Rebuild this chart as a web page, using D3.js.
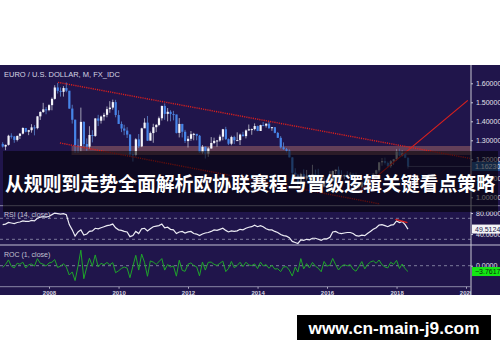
<!DOCTYPE html>
<html>
<head>
<meta charset="utf-8">
<script src="https://cdn.jsdelivr.net/npm/d3@7"></script>
<style>
body { margin: 0; background: #fff; }
svg { display: block; }
</style>
</head>
<body>
<svg id="chart" width="500" height="362"></svg>
<script>

// monthly EUR/USD bars, Sep 2006 .. May 2018
const firstMonth = "2006-09";
const firstOpen = 1.281;
const closes = [1.267,1.276,1.324,1.320,
  1.302,1.323,1.335,1.365,1.345,1.353,1.368,1.364,1.426,1.449,1.463,1.459,
  1.485,1.518,1.578,1.560,1.555,1.575,1.561,1.467,1.408,1.273,1.270,1.397,
  1.280,1.267,1.328,1.323,1.415,1.403,1.425,1.434,1.464,1.472,1.501,1.433,
  1.386,1.362,1.351,1.330,1.227,1.223,1.305,1.268,1.363,1.393,1.298,1.338,
  1.369,1.381,1.416,1.481,1.439,1.450,1.438,1.436,1.339,1.386,1.345,1.296,
  1.308,1.332,1.334,1.324,1.237,1.266,1.230,1.257,1.286,1.297,1.299,1.319,
  1.358,1.306,1.282,1.317,1.300,1.301,1.330,1.322,1.352,1.358,1.359,1.375,
  1.349,1.380,1.377,1.387,1.364,1.369,1.339,1.313,1.263,1.253,1.245,1.210,
  1.129,1.119,1.073,1.122,1.099,1.114,1.098,1.121,1.118,1.100,1.057,1.086,
  1.083,1.087,1.138,1.145,1.113,1.110,1.117,1.116,1.124,1.098,1.059,1.052,
  1.080,1.058,1.065,1.090,1.124,1.142,1.184,1.191,1.181,1.164,1.190,1.200,
  1.241,1.219,1.232,1.208,1.1623];
const highs = [1.290,1.277,1.329,1.337,
  1.323,1.325,1.338,1.368,1.364,1.355,1.385,1.380,1.428,1.453,1.497,1.475,
  1.490,1.525,1.590,1.602,1.578,1.585,1.604,1.560,1.487,1.410,1.308,1.472,
  1.400,1.310,1.374,1.353,1.417,1.434,1.430,1.445,1.478,1.506,1.514,1.513,
  1.458,1.399,1.382,1.369,1.333,1.243,1.311,1.333,1.366,1.416,1.428,1.346,
  1.387,1.386,1.425,1.482,1.494,1.470,1.458,1.455,1.434,1.417,1.387,1.355,
  1.323,1.349,1.339,1.333,1.328,1.275,1.268,1.264,1.317,1.314,1.301,1.330,
  1.360,1.371,1.310,1.324,1.324,1.342,1.335,1.345,1.357,1.383,1.362,1.389,
  1.377,1.382,1.396,1.390,1.399,1.370,1.370,1.344,1.322,1.289,1.260,1.252,
  1.211,1.153,1.123,1.129,1.147,1.144,1.122,1.171,1.146,1.150,1.103,1.106,
  1.100,1.138,1.141,1.146,1.162,1.142,1.119,1.137,1.133,1.127,1.130,1.071,
  1.083,1.083,1.091,1.096,1.127,1.145,1.185,1.207,1.209,1.188,1.196,1.202,
  1.254,1.256,1.248,1.241,1.210];
const lows = [1.262,1.248,1.272,1.309,
  1.287,1.294,1.307,1.331,1.342,1.327,1.340,1.326,1.358,1.407,1.444,1.437,
  1.453,1.458,1.514,1.546,1.530,1.530,1.553,1.465,1.388,1.233,1.233,1.242,
  1.266,1.245,1.256,1.289,1.318,1.375,1.388,1.404,1.421,1.445,1.461,1.421,
  1.386,1.343,1.327,1.312,1.214,1.188,1.215,1.259,1.264,1.368,1.297,1.307,
  1.287,1.343,1.374,1.404,1.408,1.400,1.400,1.405,1.336,1.315,1.315,1.286,
  1.262,1.297,1.300,1.300,1.234,1.229,1.204,1.213,1.256,1.280,1.266,1.292,
  1.300,1.302,1.275,1.274,1.280,1.300,1.275,1.320,1.310,1.350,1.329,1.352,
  1.348,1.349,1.375,1.367,1.360,1.350,1.337,1.313,1.257,1.250,1.236,1.210,
  1.110,1.110,1.046,1.052,1.082,1.088,1.081,1.085,1.109,1.090,1.057,1.052,
  1.071,1.086,1.082,1.122,1.110,1.091,1.095,1.105,1.112,1.085,1.056,1.035,
  1.034,1.049,1.049,1.057,1.084,1.111,1.131,1.166,1.172,1.157,1.155,1.171,
  1.192,1.215,1.215,1.206,1.151];

// RSI (14, close)
const rsiValues = [58,59,62,61,60,62,63,65,64,64,66,65,70,72,73,72,
  74,77,80,79,78,79,77,58,48,36,44,48,
  38,40,45,46,51,50,52,54,56,57,59,52,
  48,47,45,44,35,37,45,41,50,51,46,50,
  54,55,56,59,52,53,49,48,41,44,45,42,
  44,45,41,40,37,40,42,43,45,48,47,49,
  51,47,44,46,45,46,49,48,51,53,54,57,
  54,56,54,50,48,48,45,43,39,37,36,33,
  26,24,22,29,28,30,29,32,32,30,28,31,
  31,34,44,45,42,41,42,43,43,41,37,36,
  38,37,41,45,49,52,57,58,56,54,57,58,
  65,62,64,58,49.5124];

// ROC (1, close), percent
const rocValues = [-1.09,0.71,3.76,-0.30,
  -1.36,1.61,0.91,2.25,-1.47,0.59,1.11,-0.29,4.55,1.61,0.97,-0.27,
  1.78,2.22,3.95,-1.14,-0.32,1.29,-0.89,-6.02,-4.02,-9.59,-0.24,10.0,
  -8.38,-1.02,4.81,-0.38,6.95,-0.85,1.57,0.63,2.09,0.55,1.97,-4.53,
  -3.28,-1.73,-0.81,-1.55,-7.74,-0.33,6.70,-2.84,7.49,2.20,-6.82,3.08,
  2.32,0.88,2.53,4.59,-2.84,0.76,-0.83,-0.14,-6.75,3.51,-2.96,-3.64,
  0.93,1.83,0.15,-0.75,-6.57,2.34,-2.84,2.20,2.31,0.86,0.15,1.54,
  2.96,-3.83,-1.84,2.73,-1.29,0.08,2.23,-0.60,2.27,0.44,0.07,1.18,
  -1.89,2.30,-0.22,0.73,-1.66,0.37,-2.19,-1.94,-3.81,-0.79,-0.64,-2.81,
  -6.69,-0.89,-4.11,4.57,-2.05,1.36,-1.44,2.09,-0.27,-1.61,-3.91,2.74,
  -0.28,0.37,4.69,0.62,-2.79,-0.27,0.63,-0.09,0.72,-2.31,-3.55,-0.66,
  2.66,-2.04,0.66,2.35,3.12,1.60,3.68,0.59,-0.84,-1.44,2.23,0.84,
  3.42,-1.77,1.07,-1.95,-3.7617];

const priceTicks = [1.0, 1.1, 1.2, 1.3, 1.4, 1.5, 1.6];
const rsiTicks = [80, 40];
const rsiLevels = [70, 30];
const rocTicks = [0];
const lastPrice = 1.1623;

// drawings: [date, price]
const channelTop = [["2008-04-05", 1.605], ["2020-02-10", 1.205]];
const channelLow = [["2008-04-25", 1.286], ["2017-07-10", 0.965]];
const trendUp = [["2016-12-10", 1.035], ["2020-01-20", 1.51]];
const zone = {from: "2008-08-25", lo: 1.2226, hi: 1.27};
const rsiDiv = [["2017-12-20", 68], ["2018-04-25", 61.6]];
const greyFrom = "2016-09";

const title = "从规则到走势全面解析欧协联赛程与晋级逻辑关键看点策略";
const chartName = "EURO / U.S. DOLLAR, M, FX_IDC";
const watermark = "www.cn-main-j9.com";

const parseDay = d3.timeParse("%Y-%m-%d");
const parseMonth = d3.timeParse("%Y-%m");

const bg = "#20154b";
const axisX = 471;

const svg = d3.select("#chart");

svg.append("rect").attr("width", 500).attr("height", 362).attr("fill", "#fff");
svg.append("rect")
  .attr("x", 0).attr("y", 65).attr("width", 500).attr("height", 230)
  .attr("fill", bg);

const xScale = d3.scaleTime()
  .domain([new Date(2008, 0, 1), new Date(2020, 0, 1)])
  .range([49, 466]);
const yPrice = d3.scaleLinear().domain([1.0, 1.6]).range([197.3, 83.3]);
const yRsi = d3.scaleLinear().domain([30, 70]).range([239.3, 218.3]);
const yRoc = d3.scaleLinear().domain([0, 10]).range([265.7, 250.2]);

const start = parseMonth(firstMonth);
const bars = closes.map((c, i) => ({
  date: d3.timeMonth.offset(start, i),
  open: i ? closes[i - 1] : firstOpen,
  close: c, high: highs[i], low: lows[i],
  rsi: rsiValues[i], roc: rocValues[i]
}));
const greyDate = parseMonth(greyFrom);

svg.append("clipPath").attr("id", "plot")
  .append("rect").attr("x", 0).attr("y", 65).attr("width", axisX).attr("height", 230);

const plot = svg.append("g").attr("clip-path", "url(#plot)");

// support / resistance zone
plot.append("rect")
  .attr("x", xScale(parseDay(zone.from)))
  .attr("y", yPrice(zone.hi))
  .attr("width", axisX - xScale(parseDay(zone.from)))
  .attr("height", yPrice(zone.lo) - yPrice(zone.hi))
  .attr("fill", "#c27a6e").attr("fill-opacity", 0.42);

// candles
const candle = plot.append("g").selectAll("g")
  .data(bars).enter().append("g");

function colors(d) {
  const up = d.close >= d.open;
  const grey = d.date >= greyDate;
  if (grey) return up ? ["#a4a4b0", "#8c8c9a"] : ["#3c6cb8", "#4d6a9c"];
  return up ? ["#f4f4fa", "#c4c4d2"] : ["#4684e8", "#5a88d2"];
}

candle.append("line")
  .attr("x1", d => xScale(d.date)).attr("x2", d => xScale(d.date))
  .attr("y1", d => yPrice(d.high)).attr("y2", d => yPrice(d.low))
  .attr("stroke", d => colors(d)[1]).attr("stroke-width", 0.8);

candle.append("rect")
  .attr("x", d => xScale(d.date) - 1)
  .attr("width", 2.2)
  .attr("y", d => yPrice(Math.max(d.open, d.close)))
  .attr("height", d => Math.max(1, Math.abs(yPrice(d.open) - yPrice(d.close))))
  .attr("fill", d => colors(d)[0]);

// channel (dotted) and trend line
function drawLine(pts, dash, width) {
  plot.append("line")
    .attr("x1", xScale(parseDay(pts[0][0]))).attr("y1", yPrice(pts[0][1]))
    .attr("x2", xScale(parseDay(pts[1][0]))).attr("y2", yPrice(pts[1][1]))
    .attr("stroke", "#d8201e").attr("stroke-width", width)
    .attr("stroke-dasharray", dash);
}
drawLine(channelTop, "1.2,1", 1.4);
drawLine(channelLow, "1.2,1", 1.4);
drawLine(trendUp, null, 1.2);

// last price line
plot.append("line")
  .attr("x1", xScale(bars[bars.length - 1].date)).attr("x2", axisX)
  .attr("y1", yPrice(lastPrice)).attr("y2", yPrice(lastPrice))
  .attr("stroke", "#9aa0c0").attr("stroke-width", 0.6).attr("stroke-opacity", 0.7);

// RSI pane
plot.selectAll(".rsilevel").data(rsiLevels).enter().append("line")
  .attr("x1", 0).attr("x2", axisX)
  .attr("y1", d => yRsi(d)).attr("y2", d => yRsi(d))
  .attr("stroke", "#7c7a9c").attr("stroke-dasharray", "3,3");

plot.append("path")
  .datum(bars)
  .attr("fill", "none").attr("stroke", "#ececf4").attr("stroke-width", 1.2)
  .attr("d", d3.line().x(d => xScale(d.date)).y(d => yRsi(d.rsi)));

plot.append("line")
  .attr("x1", xScale(parseDay(rsiDiv[0][0]))).attr("y1", yRsi(rsiDiv[0][1]))
  .attr("x2", xScale(parseDay(rsiDiv[1][0]))).attr("y2", yRsi(rsiDiv[1][1]))
  .attr("stroke", "#e0201e").attr("stroke-width", 1.3);

// ROC pane
plot.selectAll(".roclevel").data(rocTicks).enter().append("line")
  .attr("x1", 0).attr("x2", axisX)
  .attr("y1", d => yRoc(d)).attr("y2", d => yRoc(d))
  .attr("stroke", "#7c7a9c").attr("stroke-dasharray", "3,3");

plot.append("path")
  .datum(bars)
  .attr("fill", "none").attr("stroke", "#1ea52a").attr("stroke-width", 1)
  .attr("d", d3.line().x(d => xScale(d.date)).y(d => yRoc(d.roc)));

// pane separators
svg.append("line").attr("x1", 0).attr("x2", 500).attr("y1", 205.7).attr("y2", 205.7)
  .attr("stroke", "#8e8ca8").attr("stroke-width", 1);
svg.append("line").attr("x1", 0).attr("x2", 500).attr("y1", 245).attr("y2", 245)
  .attr("stroke", "#c4c2d6").attr("stroke-width", 1);

// right scale
svg.append("line").attr("x1", axisX).attr("x2", axisX).attr("y1", 65).attr("y2", 295)
  .attr("stroke", "#c8c8d4").attr("stroke-width", 1);

function styleAxis(g) {
  g.select(".domain").remove();
  g.selectAll("line").attr("stroke", "#c8c8d4");
  g.selectAll("text")
    .attr("fill", "#e2e2ea")
    .attr("font-family", "Liberation Sans, Arial, sans-serif")
    .attr("font-size", "7px");
}

svg.append("g")
  .attr("transform", `translate(${axisX},0)`)
  .call(d3.axisRight(yPrice).tickValues(priceTicks).tickFormat(d3.format(".5f")).tickSize(2).tickPadding(3))
  .call(styleAxis);

svg.append("g")
  .attr("transform", `translate(${axisX},0)`)
  .call(d3.axisRight(yRsi).tickValues(rsiTicks).tickFormat(d3.format(".4f")).tickSize(2).tickPadding(3))
  .call(styleAxis);

svg.append("g")
  .attr("transform", `translate(${axisX},0)`)
  .call(d3.axisRight(yRoc).tickValues(rocTicks).tickFormat(d3.format(".4f")).tickSize(2).tickPadding(3))
  .call(styleAxis);

// value tags on the scale
const last = bars[bars.length - 1];
const tags = [
  {y: yPrice(lastPrice), text: d3.format(".5f")(lastPrice), fill: "#2c5a9c", color: "#e8ecf8"},
  {y: yRsi(last.rsi), text: d3.format(".4f")(last.rsi), fill: "#f4f4f6", color: "#20154b"},
  {y: yRoc(last.roc), text: d3.format(".4f")(last.roc), fill: "#14e614", color: "#0b2a0b"}
];
const tag = svg.append("g").selectAll("g").data(tags).enter().append("g");
tag.append("rect")
  .attr("x", axisX + 1).attr("y", d => d.y - 4.5)
  .attr("width", 28).attr("height", 9).attr("fill", d => d.fill);
tag.append("text")
  .attr("x", axisX + 4).attr("y", d => d.y + 2.6)
  .attr("font-family", "Liberation Sans, Arial, sans-serif").attr("font-size", "7px")
  .attr("fill", d => d.color).text(d => d.text);

// time axis (clipped at the price scale, so 2020 is cut like the original)
const xAxis = svg.append("g")
  .attr("clip-path", "url(#plot)")
  .append("g")
  .attr("transform", "translate(0,286.7)")
  .call(d3.axisBottom(xScale).ticks(d3.timeYear.every(2)).tickFormat(d3.timeFormat("%Y")).tickSize(2).tickPadding(2));
xAxis.select(".domain").remove();
xAxis.selectAll("line").attr("stroke", "#b4b2c8");
xAxis.selectAll("text")
  .attr("fill", "#d4d4e0")
  .attr("font-family", "Liberation Sans, Arial, sans-serif")
  .attr("font-size", "6px").attr("font-weight", "bold");
svg.append("line").attr("x1", 0).attr("x2", axisX).attr("y1", 286.7).attr("y2", 286.7)
  .attr("stroke", "#8886a6").attr("stroke-width", 1);

// pane titles
const labels = [
  {y: 76.5, text: chartName, size: 7.5, fill: "#d6d6e4"},
  {y: 216.5, text: "RSI (14, close)", size: 7, fill: "#c2c2d2"},
  {y: 257, text: "ROC (1, close)", size: 7, fill: "#c2c2d2"}
];
svg.selectAll(".panelabel").data(labels).enter().append("text")
  .attr("x", 4).attr("y", d => d.y)
  .attr("font-family", "Liberation Sans, Arial, sans-serif")
  .attr("font-size", d => d.size + "px")
  .attr("fill", d => d.fill)
  .text(d => d.text);

// headline band
svg.append("rect")
  .attr("x", 3).attr("y", 151).attr("width", 495).attr("height", 61)
  .attr("fill", "#000").attr("fill-opacity", 0.56);
svg.append("text")
  .attr("x", 250).attr("y", 191)
  .attr("text-anchor", "middle")
  .attr("font-family", "Noto Sans CJK SC, sans-serif")
  .attr("font-weight", "bold").attr("font-size", "19.5px")
  .attr("textLength", 490).attr("lengthAdjust", "spacingAndGlyphs")
  .attr("fill", "#fff")
  .text(title);

// site tag
svg.append("rect")
  .attr("x", 297).attr("y", 315).attr("width", 194).attr("height", 25)
  .attr("fill", "#000");
svg.append("text")
  .attr("x", 394).attr("y", 333.5)
  .attr("text-anchor", "middle")
  .attr("font-family", "Liberation Sans, Arial, sans-serif")
  .attr("font-weight", "bold").attr("font-size", "17px")
  .attr("textLength", 171).attr("lengthAdjust", "spacingAndGlyphs")
  .attr("fill", "#fff")
  .text(watermark);

</script>
</body>
</html>
